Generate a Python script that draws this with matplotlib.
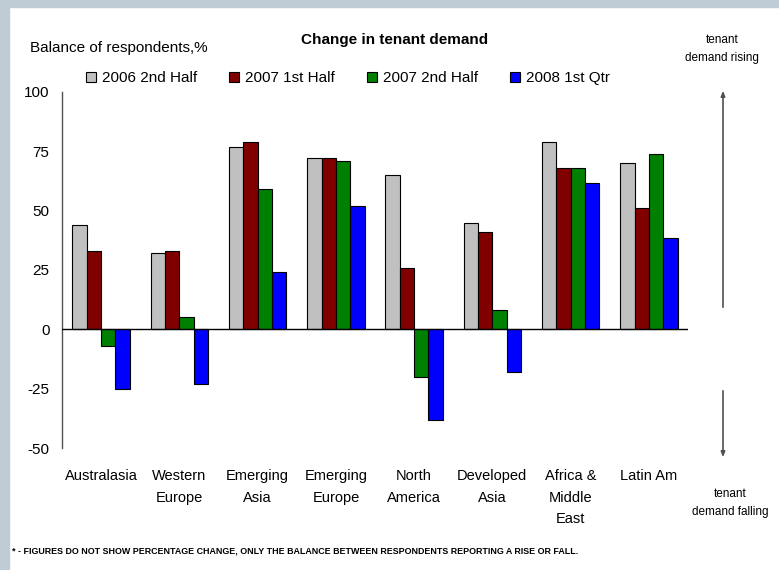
import numpy as np
import matplotlib.pyplot as plt
from matplotlib.patches import Rectangle

plt.rcParams['font.family'] = ['Liberation Sans', 'DejaVu Sans']

# data
regions = ["Australasia", "Western\nEurope", "Emerging\nAsia", "Emerging\nEurope",
           "North\nAmerica", "Developed\nAsia", "Africa &\nMiddle\nEast", "Latin Am"]
h2_2006 = [44, 32, 77, 72, 65, 45, 79, 70]
h1_2007 = [33, 33, 79, 72, 26, 41, 68, 51]
h2_2007 = [-7, 5, 59, 71, -20, 8, 68, 74]
q1_2008 = [-25, -23, 24, 52, -38, -18, 61.5, 38.5]
series_names = ["2006 2nd Half", "2007 1st Half", "2007 2nd Half", "2008 1st Qtr"]
series_colors = ["#C0C0C0", "#800000", "#008000", "#0000FF"]
yticks = [-50, -25, 0, 25, 50, 75, 100]

W, H = 779, 570
fig = plt.figure(figsize=(W / 100, H / 100), dpi=100)
fig.patch.set_facecolor("white")

# grey frame bands (top and left)
band = "#BFCCD6"
fig.patches.append(Rectangle((0, 1 - 7 / H), 1, 7 / H, transform=fig.transFigure, color=band, zorder=0))
fig.patches.append(Rectangle((0, 0), 9 / W, 1, transform=fig.transFigure, color=band, zorder=0))

ax = fig.add_axes([62 / W, 1 - 448 / H, (688 - 62) / W, (448 - 92) / H])

x = np.arange(len(regions))
w = 0.183
all_series = [h2_2006, h1_2007, h2_2007, q1_2008]
for i, vals in enumerate(all_series):
    ax.bar(x + (i - 1.5) * w, vals, w, color=series_colors[i], edgecolor="black",
           linewidth=0.8, label=series_names[i], zorder=2)

ax.axhline(0, color="black", lw=1, zorder=3)
ax.set_xlim(-0.5, len(regions) - 0.5)
ax.set_ylim(-50, 100)
ax.set_yticks(yticks)
ax.set_yticklabels([str(t) for t in yticks], fontsize=11)
ax.set_xticks(x)
ax.set_xticklabels(regions, fontsize=10.5, linespacing=1.7, va="top")
ax.tick_params(axis="y", length=0, pad=9)
ax.tick_params(axis="x", length=0, pad=15)
for s in ["top", "right", "bottom"]:
    ax.spines[s].set_visible(False)
ax.spines["left"].set_color("#505050")
ax.spines["left"].set_linewidth(1)

ax.legend(loc="center", bbox_to_anchor=(348 / W, 1 - 78 / H), bbox_transform=fig.transFigure,
          ncol=4, frameon=False, fontsize=11, handlelength=0.65, handleheight=0.65,
          handletextpad=0.4, columnspacing=2.1)

fig.text(395 / W, 1 - 40 / H, "Change in tenant demand", fontsize=11, fontweight="bold",
         ha="center", va="center")
fig.text(30 / W, 1 - 48 / H, "Balance of respondents,%", fontsize=11, ha="left", va="center")

fig.text(722 / W, 1 - 49 / H, "tenant\ndemand rising", fontsize=8.5, ha="center",
         va="center", linespacing=1.6)
fig.text(730 / W, 1 - 503 / H, "tenant\ndemand falling", fontsize=8.5, ha="center",
         va="center", linespacing=1.6)
arrow = dict(arrowstyle="-|>,head_length=0.3,head_width=0.12", color="#505050", lw=1.2)
ax.annotate("", xy=(723 / W, 1 - 88 / H), xytext=(723 / W, 1 - 310 / H),
            xycoords="figure fraction", arrowprops=arrow, annotation_clip=False)
ax.annotate("", xy=(723 / W, 1 - 460 / H), xytext=(723 / W, 1 - 388 / H),
            xycoords="figure fraction", arrowprops=arrow, annotation_clip=False)

fig.text(12 / W, 1 - 551 / H,
         "* - FIGURES DO NOT SHOW PERCENTAGE CHANGE, ONLY THE BALANCE BETWEEN RESPONDENTS REPORTING A RISE OR FALL.",
         fontsize=6.4, fontweight="bold", ha="left", va="center")

fig.savefig("out.png", dpi=100)
